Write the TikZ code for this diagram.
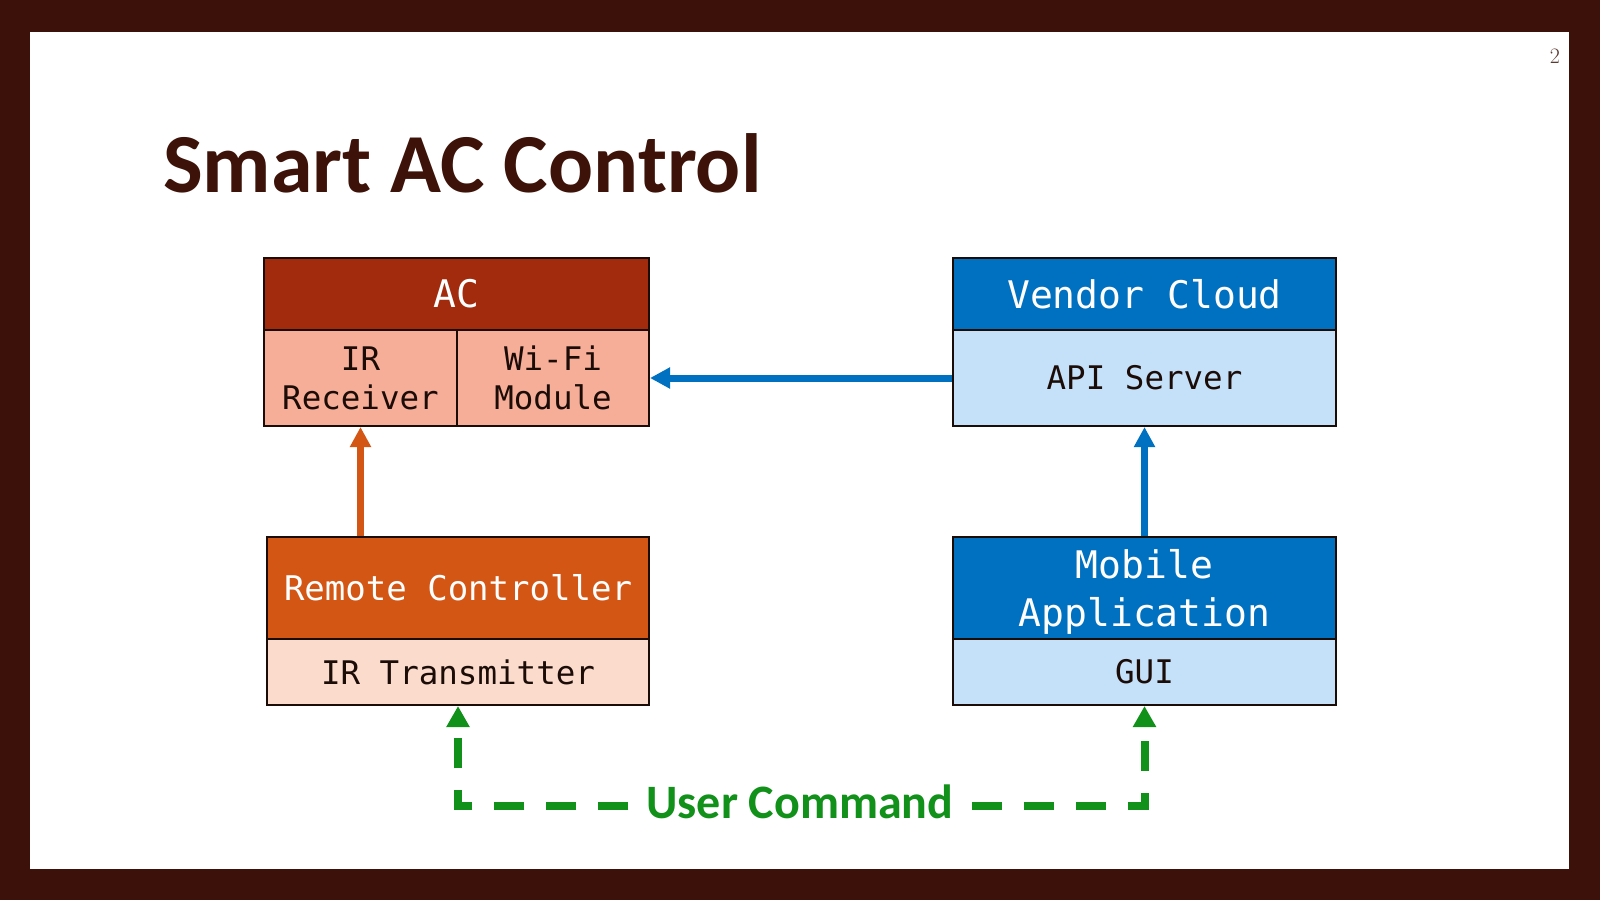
\documentclass[tikz,border=0pt]{standalone}
\usepackage{fontspec}
\setmonofont{DejaVu Sans Mono}
\newfontfamily\carlito{Carlito}
\usetikzlibrary{arrows.meta}
\definecolor{frameC}{HTML}{3C1109}
\definecolor{titleC}{HTML}{3D1309}
\definecolor{acH}{HTML}{A22B0E}
\definecolor{acB}{HTML}{F6AE98}
\definecolor{rcH}{HTML}{D45615}
\definecolor{rcB}{HTML}{FADBCC}
\definecolor{blH}{HTML}{0070C0}
\definecolor{blB}{HTML}{C5E1FA}
\definecolor{grn}{HTML}{11901A}
\definecolor{txtC}{HTML}{1C0C08}
\definecolor{pageC}{HTML}{5B3A30}
\tikzset{
  cell/.style={draw=txtC, line width=2pt, inner sep=0pt, align=center},
  hdrbig/.style={cell, text=white, font=\ttfamily\fontsize{38}{48}\selectfont},
  hdrsmall/.style={cell, text=white, font=\ttfamily\fontsize{34}{40}\selectfont},
  bodytxt/.style={cell, text=txtC, font=\ttfamily\fontsize{32.5}{39}\selectfont},
  orarrow/.style={draw=rcH, line width=7pt, -{Triangle[length=20pt,width=20pt]}},
  blarrow/.style={draw=blH, line width=7pt, -{Triangle[length=20pt,width=20pt]}},
  grarrow/.style={draw=grn, line width=8pt, dash pattern=on 30pt off 22pt, -{Triangle[length=21pt,width=22pt]}}
}
\begin{document}
\begin{tikzpicture}[x=1pt,y=-1pt]
\useasboundingbox (0,0) rectangle (1600,900);
\fill[frameC] (0,0) rectangle (1600,900);
\fill[white] (30,32) rectangle (1569,869);
% page number and title
\node[text=pageC, font=\fontsize{22}{24}\selectfont] (pg) at (1555,56) {2};
\node[anchor=base west, inner sep=0pt, text=titleC, font=\carlito\bfseries\fontsize{84}{90}\selectfont] (title) at (163,192) {Smart AC Control};
% AC
\node[hdrbig, fill=acH, minimum width=385pt, minimum height=72pt] (ach) at (456.5,294) {AC};
\node[bodytxt, fill=acB, minimum width=193pt, minimum height=96pt] (ir) at (360.5,378) {IR\\Receiver};
\node[bodytxt, fill=acB, minimum width=192pt, minimum height=96pt] (wifi) at (553,378) {Wi-Fi\\Module};
% Vendor Cloud
\node[hdrbig, fill=blH, minimum width=383pt, minimum height=72pt] (vch) at (1144.5,294) {Vendor Cloud};
\node[bodytxt, fill=blB, minimum width=383pt, minimum height=96pt] (api) at (1144.5,378) {API Server};
% Remote Controller
\node[hdrsmall, fill=rcH, minimum width=382pt, minimum height=102pt] (rch) at (458,588) {Remote Controller};
\node[bodytxt, fill=rcB, minimum width=382pt, minimum height=66pt] (irt) at (458,672) {IR Transmitter};
% Mobile Application
\node[hdrbig, fill=blH, minimum width=383pt, minimum height=102pt, text depth=0pt] (mah) at (1144.5,588) {Mobile\\Application};
\node[bodytxt, fill=blB, minimum width=383pt, minimum height=66pt] (gui) at (1144.5,672) {GUI};
% connectors
\draw[orarrow] (rch.north -| ir.south) -- (ir.south);
\draw[blarrow] (api.west) -- (wifi.east);
\draw[blarrow] (mah.north) -- (api.south);
% user command
\node[anchor=base, inner xsep=18pt, inner ysep=0pt, text=grn, font=\carlito\bfseries\fontsize{48}{56}\selectfont] (uc) at (800,818) {User Command};
\coordinate (gline) at (800,806);
\draw[grarrow] (uc.west |- gline) -| (irt.south);
\draw[grarrow] (uc.east |- gline) -| (gui.south);
\end{tikzpicture}
\end{document}
